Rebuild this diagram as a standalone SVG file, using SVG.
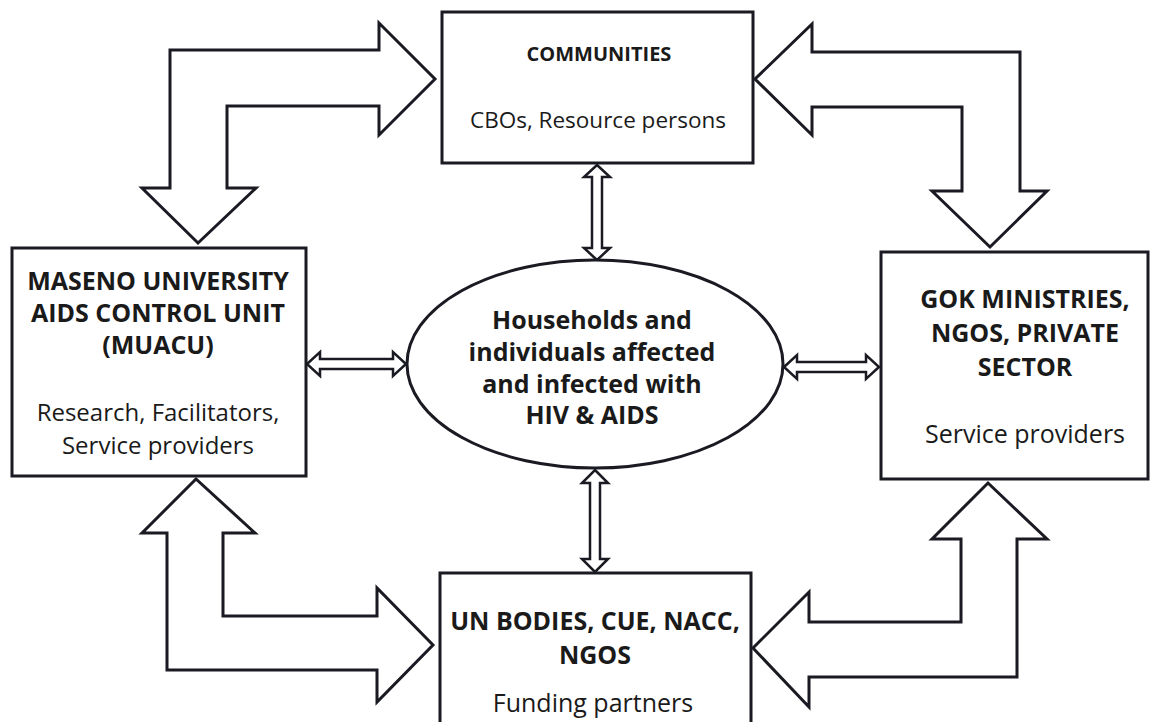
<svg xmlns="http://www.w3.org/2000/svg" width="1162" height="722" viewBox="0 0 1162 722">
<style>
.box{fill:#fff;stroke:#1a1a22;stroke-width:3}
.big{fill:#fff;stroke:#1a1a22;stroke-width:3;stroke-linejoin:miter}
.sm{fill:#fff;stroke:#1a1a22;stroke-width:2.5;stroke-linejoin:miter}
.b{font-family:"Open Sans","Liberation Sans",sans-serif;font-weight:bold;font-size:25px;fill:#1a1a1a;text-anchor:middle}
.r{font-family:"Open Sans","Liberation Sans",sans-serif;font-size:25px;fill:#1a1a1a;text-anchor:middle}
</style>
<rect width="1162" height="722" fill="#fff"/>
<g id="connectors">
<path class="big" d="M170,188 L170,50 L379,50 L379,23 L435,79 L379,135 L379,106 L227,106 L227,188 L256,188 L198,243 L142,188 Z"/>
<path class="big" d="M1020,191 L1020,52 L812,52 L812,24 L755,79 L812,135 L812,107 L962,107 L962,191 L932,191 L990,247 L1047,191 Z"/>
<path class="big" d="M167,533 L167,670 L377,670 L377,702 L433,645 L377,588 L377,616 L223,616 L223,533 L255,533 L196,479 L142,533 Z"/>
<path class="big" d="M1017,539 L1017,677 L809,677 L809,707 L753,648 L809,592 L809,622 L961,622 L961,539 L932,539 L988,483 L1047,539 Z"/>
<path class="sm" d="M307,364 L320,352 L320,359 L393,359 L393,352 L406,364 L393,376 L393,369 L320,369 L320,376 Z"/>
<path class="sm" d="M784,367 L797,355 L797,362 L866,362 L866,355 L879,367 L866,379 L866,372 L797,372 L797,379 Z"/>
<path class="sm" d="M597,165 L610,177 L602,177 L602,248 L610,248 L597,260 L584,248 L592,248 L592,177 L584,177 Z"/>
<path class="sm" d="M595,470 L608,483 L600,483 L600,559 L608,559 L595,572 L582,559 L590,559 L590,483 L582,483 Z"/>
</g>
<g id="communities">
<rect class="box" x="442" y="12" width="311" height="151"/>
<text class="b" x="599" y="61" style="font-size:20px">COMMUNITIES</text>
<text class="r" x="598" y="128" style="font-size:22.5px">CBOs, Resource persons</text>
</g>
<g id="muacu">
<rect class="box" x="12" y="248" width="294" height="228"/>
<text class="b" x="158" y="290">MASENO UNIVERSITY</text>
<text class="b" x="158" y="322">AIDS CONTROL UNIT</text>
<text class="b" x="158" y="354">(MUACU)</text>
<text class="r" x="158" y="421" style="font-size:24px">Research, Facilitators,</text>
<text class="r" x="158" y="454" style="font-size:24px">Service providers</text>
</g>
<g id="households">
<ellipse class="box" cx="595" cy="364" rx="188" ry="104"/>
<text class="b" x="592" y="329">Households and</text>
<text class="b" x="592" y="361">individuals affected</text>
<text class="b" x="592" y="393">and infected with</text>
<text class="b" x="592" y="424">HIV &amp; AIDS</text>
</g>
<g id="gok">
<rect class="box" x="881" y="252" width="267" height="227"/>
<text class="b" x="1025" y="308">GOK MINISTRIES,</text>
<text class="b" x="1025" y="342">NGOS, PRIVATE</text>
<text class="b" x="1025" y="376">SECTOR</text>
<text class="r" x="1025" y="443">Service providers</text>
</g>
<g id="un">
<rect class="box" x="440" y="573" width="311" height="170"/>
<text class="b" x="595" y="630">UN BODIES, CUE, NACC,</text>
<text class="b" x="595" y="664">NGOS</text>
<text class="r" x="593" y="712">Funding partners</text>
</g>
</svg>
